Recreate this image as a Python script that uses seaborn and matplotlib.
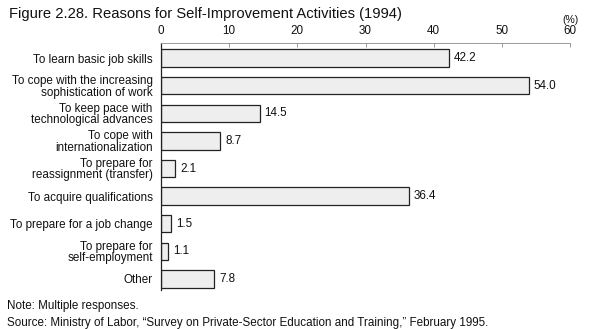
import matplotlib
matplotlib.use("Agg")
import matplotlib.pyplot as plt
import seaborn as sns
import pandas as pd

categories = [
    "To learn basic job skills",
    "To cope with the increasing\nsophistication of work",
    "To keep pace with\ntechnological advances",
    "To cope with\ninternationalization",
    "To prepare for\nreassignment (transfer)",
    "To acquire qualifications",
    "To prepare for a job change",
    "To prepare for\nself-employment",
    "Other",
]
values = [42.2, 54.0, 14.5, 8.7, 2.1, 36.4, 1.5, 1.1, 7.8]
value_labels = ["42.2", "54.0", "14.5", "8.7", "2.1", "36.4", "1.5", "1.1", "7.8"]
x_ticks = [0, 10, 20, 30, 40, 50, 60]

df = pd.DataFrame({"reason": categories, "pct": values})

sns.set_theme(style="white")
plt.rcParams["font.family"] = ["Liberation Sans", "DejaVu Sans"]

FS = 8.4

fig = plt.figure(figsize=(5.91, 3.29), dpi=100)
ax = fig.add_axes([161/591, 1 - 290/329, (570-161)/591, (290-43)/329])

sns.barplot(data=df, y="reason", x="pct", orient="h", ax=ax,
            color="#eeeeee", edgecolor="#222222", linewidth=0.9,
            width=0.63, saturation=1)

for i, (v, lab) in enumerate(zip(values, value_labels)):
    ax.text(v + 0.7, i, lab, va="center", ha="left", fontsize=FS, color="#111111")

ax.set_xlim(0, 60)
ax.set_ylim(8.4, -0.55)
ax.set_xticks(x_ticks)
ax.set_xticklabels([str(t) for t in x_ticks], fontsize=FS)
ax.xaxis.tick_top()
ax.tick_params(axis="x", direction="in", length=3, width=0.6, color="#888888",
               pad=4, top=True, bottom=False, labelcolor="#111111")
ax.tick_params(axis="y", length=0, pad=6, labelsize=FS, labelcolor="#111111")
ax.set_xlabel("")
ax.set_ylabel("")
for s in ["right", "bottom"]:
    ax.spines[s].set_visible(False)
ax.spines["top"].set_color("#999999")
ax.spines["top"].set_linewidth(0.7)
ax.spines["left"].set_color("#222222")
ax.spines["left"].set_linewidth(0.9)
for lab in ax.get_yticklabels():
    lab.set_multialignment("right")
    lab.set_linespacing(0.92)

fig.text(9/591, 1 - 14/329, "Figure 2.28. Reasons for Self-Improvement Activities (1994)",
         fontsize=10.6, va="center", ha="left", color="#111111")
fig.text(579/591, 1 - 20/329, "(%)", fontsize=7.5, va="center", ha="right", color="#111111")
fig.text(7/591, 1 - 306/329, "Note: Multiple responses.", fontsize=FS, va="center", ha="left", color="#111111")
fig.text(7/591, 1 - 323/329,
         "Source: Ministry of Labor, \u201cSurvey on Private-Sector Education and Training,\u201d February 1995.",
         fontsize=FS, va="center", ha="left", color="#111111")

fig.savefig("out.png", dpi=100, facecolor="white")
